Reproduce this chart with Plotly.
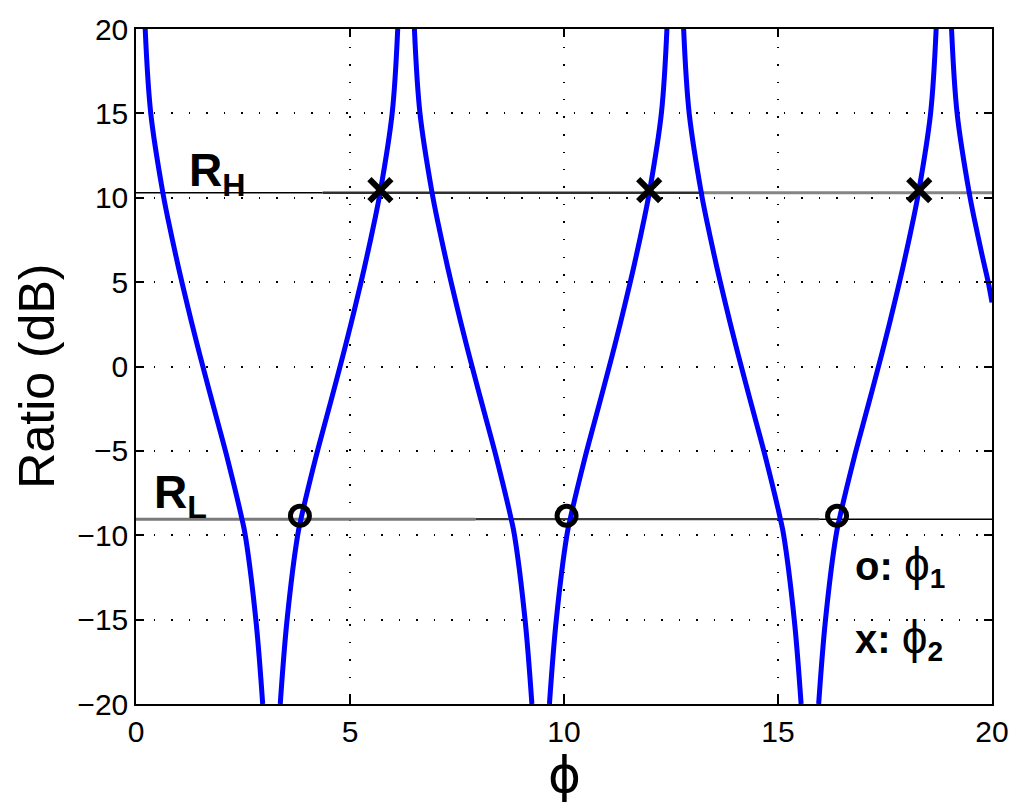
import plotly.graph_objects as go

# ratio curve: one descending and one rising branch per period
r_down = [20, 15, 10.3, 8.5, 6.5, 5.0, 2.6, 0.6, -1.4, -3.4, -5.5, -9.05, -10, -15, -20]
r_up = [-20, -15, -10, -9.05, -5.5, -3.4, -1.4, 0.6, 2.6, 5.0, 6.5, 8.5, 10.3, 15, 20]

phi_down1 = [0.215, 0.345, 0.627, 0.767, 0.937, 1.072, 1.30, 1.50, 1.708, 1.92, 2.14, 2.477, 2.553, 2.80, 2.96]
phi_up1 = [3.37, 3.53, 3.777, 3.853, 4.19, 4.41, 4.622, 4.83, 5.03, 5.258, 5.393, 5.563, 5.703, 5.985, 6.115]
phi_down2 = [6.505, 6.635, 6.917, 7.057, 7.227, 7.362, 7.59, 7.79, 7.998, 8.21, 8.43, 8.767, 8.843, 9.09, 9.25]
phi_up2 = [9.66, 9.82, 10.067, 10.143, 10.48, 10.70, 10.912, 11.12, 11.32, 11.548, 11.683, 11.853, 11.993, 12.275, 12.405]
phi_down3 = [12.795, 12.925, 13.207, 13.347, 13.517, 13.652, 13.88, 14.08, 14.288, 14.50, 14.72, 15.057, 15.133, 15.38, 15.54]
phi_up3 = [15.95, 16.11, 16.357, 16.433, 16.77, 16.99, 17.202, 17.41, 17.61, 17.838, 17.973, 18.143, 18.283, 18.565, 18.695]
phi_down4 = [19.055, 19.185, 19.467, 19.607, 19.777, 19.912, 20.0]
r_down4 = [20, 15, 10.3, 8.5, 6.5, 5.0, 3.8]

# thresholds
r_high = 10.3
r_low = -9.05
rh_breaks = [0, 4.36, 13.27, 20]
rh_colors = ["#000000", "#303030", "#858585"]
rh_widths = [1.5, 2.5, 3]
rl_breaks = [0, 7.93, 15.96, 20]
rl_colors = ["#7a7a7a", "#3a3a3a", "#000000"]
rl_widths = [3, 2.2, 1.5]

# crossing markers
phi1 = [3.83, 10.06, 16.38]
phi1_r = [-8.85, -8.85, -8.85]
phi2 = [5.71, 11.99, 18.30]
phi2_r = [10.45, 10.45, 10.45]

fig = go.Figure()

for i in range(3):
    fig.add_trace(go.Scatter(x=rh_breaks[i:i + 2], y=[r_high, r_high], mode="lines",
                             line=dict(color=rh_colors[i], width=rh_widths[i]), showlegend=False))
    fig.add_trace(go.Scatter(x=rl_breaks[i:i + 2], y=[r_low, r_low], mode="lines",
                             line=dict(color=rl_colors[i], width=rl_widths[i]), showlegend=False))

branches = [(phi_down1, r_down), (phi_up1, r_up), (phi_down2, r_down), (phi_up2, r_up),
            (phi_down3, r_down), (phi_up3, r_up), (phi_down4, r_down4)]
for bx, by in branches:
    fig.add_trace(go.Scatter(x=bx, y=by, mode="lines", line=dict(color="#0000ff", width=5, shape="spline"),
                             showlegend=False))

fig.add_trace(go.Scatter(x=phi1, y=phi1_r, mode="markers",
                         marker=dict(symbol="circle-open", size=19, color="black", line=dict(width=5, color="black")),
                         showlegend=False))
fig.add_trace(go.Scatter(x=phi2, y=phi2_r, mode="markers",
                         marker=dict(symbol="x-thin-open", size=22, color="black", line=dict(width=6, color="black")),
                         showlegend=False))

arial = "Arial, Liberation Sans, sans-serif"
fig.add_annotation(x=1.2, y=9.6, xref="x", yref="y", text="<b>R<sub>H</sub></b>", showarrow=False,
                   xanchor="left", yanchor="bottom", font=dict(family=arial, size=46, color="black"))
fig.add_annotation(x=0.38, y=-9.5, xref="x", yref="y", text="<b>R<sub>L</sub></b>", showarrow=False,
                   xanchor="left", yanchor="bottom", font=dict(family=arial, size=46, color="black"))
fig.add_annotation(x=16.75, y=-13.6, xref="x", yref="y",
                   text="<b>o:</b> <span style='font-size:46px'>ϕ</span><sub><b>1</b></sub>", showarrow=False,
                   xanchor="left", yanchor="bottom", font=dict(family=arial, size=40, color="black"))
fig.add_annotation(x=16.75, y=-17.9, xref="x", yref="y",
                   text="<b>x:</b> <span style='font-size:46px'>ϕ</span><sub><b>2</b></sub>", showarrow=False,
                   xanchor="left", yanchor="bottom", font=dict(family=arial, size=40, color="black"))

# axis titles as annotations so they do not push the margins
fig.add_annotation(x=-0.116, y=0.486, xref="paper", yref="paper", text="Ratio (dB)", textangle=-90,
                   showarrow=False, xanchor="center", yanchor="middle",
                   font=dict(family=arial, size=50, color="black"))
fig.add_annotation(x=0.5, y=-0.105, xref="paper", yref="paper", text="ϕ",
                   showarrow=False, xanchor="center", yanchor="middle",
                   font=dict(family="DejaVu Sans, sans-serif", size=50, color="black"))

axis_common = dict(showline=True, linecolor="black", linewidth=1.5, mirror="allticks",
                   ticks="inside", ticklen=8, tickwidth=1.5, tickcolor="black",
                   showgrid=True, gridcolor="black", gridwidth=1.5, griddash="1.5px,16px",
                   zeroline=False, automargin=False,
                   tickfont=dict(family=arial, size=30, color="black"))

fig.update_xaxes(range=[0, 20], tickvals=[0, 5, 10, 15, 20], ticktext=["0", "5", "10", "15", "20"],
                 **axis_common)
fig.update_yaxes(range=[-20, 20], tickvals=[-20, -15, -10, -5, 0, 5, 10, 15, 20],
                 ticktext=["−20", "−15", "−10", "−5", "0", "5", "10", "15", "20"],
                 **axis_common)

# the page body adds an 8px offset, so the figure is 8px smaller and margins are shifted
fig.update_layout(width=1016, height=801, margin=dict(l=128, r=32, t=21, b=105),
                  plot_bgcolor="white", paper_bgcolor="white")

fig.write_html("out.html")
